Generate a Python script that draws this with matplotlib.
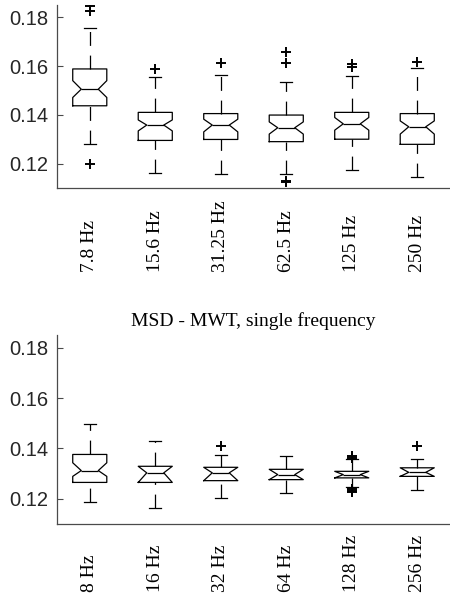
import matplotlib
matplotlib.use('Agg')
import matplotlib.pyplot as plt

# top panel: MSD at the wavelet-ish frequencies
top_title = 'MSD - Wavelet, single frequency'
top_labels = ['7.8 Hz', '15.6 Hz', '31.25 Hz', '62.5 Hz', '125 Hz', '250 Hz']
top_med = [0.1505, 0.1358, 0.1358, 0.1347, 0.1363, 0.1351]
top_q1 = [0.1437, 0.1295, 0.1299, 0.1290, 0.1300, 0.1279]
top_q3 = [0.1588, 0.1410, 0.1405, 0.1399, 0.1410, 0.1405]
top_whislo = [0.1282, 0.1160, 0.1159, 0.1159, 0.1173, 0.1145]
top_whishi = [0.1755, 0.1556, 0.1564, 0.1533, 0.1560, 0.1590]
top_cilo = [0.1471, 0.1334, 0.1330, 0.1321, 0.1337, 0.1321]
top_cihi = [0.1540, 0.1379, 0.1382, 0.1371, 0.1389, 0.1375]
top_fliers = [[0.1848, 0.1827, 0.1200], [0.1588], [0.1611],
              [0.1659, 0.1611, 0.1129, 0.1123], [0.1608, 0.1597], [0.1618]]

# bottom panel: MSD - MWT
bot_title = 'MSD - MWT, single frequency'
bot_labels = ['8 Hz', '16 Hz', '32 Hz', '64 Hz', '128 Hz', '256 Hz']
bot_med = [0.1312, 0.1303, 0.1303, 0.1296, 0.1296, 0.1305]
bot_q1 = [0.1265, 0.1265, 0.1272, 0.1276, 0.1283, 0.1289]
bot_q3 = [0.1376, 0.1329, 0.1325, 0.1317, 0.1309, 0.1323]
bot_whislo = [0.1189, 0.1165, 0.1205, 0.1223, 0.1248, 0.1236]
bot_whishi = [0.1496, 0.1428, 0.1375, 0.1368, 0.1356, 0.1356]
bot_cilo = [0.1289, 0.1265, 0.1272, 0.1276, 0.1283, 0.1289]
bot_cihi = [0.1343, 0.1329, 0.1325, 0.1317, 0.1309, 0.1323]
bot_fliers = [[], [], [0.1409], [], [0.1370, 0.1363, 0.1240, 0.1232, 0.1225], [0.1409]]

yticks = [0.12, 0.14, 0.16, 0.18]

plt.rcParams['lines.scale_dashes'] = False
serif = 'Liberation Serif'
sans = 'Liberation Sans'
axcol = '#4a4a4a'


def draw_panel(ax, title, labels, med, q1, q3, wlo, whi, cilo, cihi, fliers, label_y):
    stats = []
    for i in range(len(labels)):
        stats.append(dict(med=med[i], q1=q1[i], q3=q3[i], whislo=wlo[i], whishi=whi[i],
                          cilo=cilo[i], cihi=cihi[i], fliers=fliers[i]))
    pos = list(range(1, len(labels) + 1))
    art = ax.bxp(stats, positions=pos, widths=0.52, capwidths=0.18, shownotches=True,
                 boxprops=dict(color='black', lw=0.9),
                 medianprops=dict(color='black', lw=0.9),
                 whiskerprops=dict(color='black', lw=0.9, linestyle=(0, (10, 7))),
                 capprops=dict(color='black', lw=0.9),
                 flierprops=dict(marker='+', markersize=7.5, markeredgewidth=1.4,
                                 markeredgecolor='black', linestyle='none'))
    # lower whiskers dash from the cap side, like the original
    for w in art['whiskers'][0::2]:
        x, y = w.get_data()
        w.set_data(x[::-1], y[::-1])

    ax.set_xlim(0.5, 6.5)
    ax.set_ylim(0.11, 0.185)
    ax.set_yticks(yticks)
    ax.set_yticklabels(['%.2f' % v for v in yticks], fontfamily=sans, fontsize=14.5, color='#262626')
    ax.set_xticks(pos)
    ax.set_xticklabels([''] * len(pos))
    ax.tick_params(axis='y', direction='in', length=4, width=0.8, pad=6.0, color=axcol)
    ax.tick_params(axis='x', length=0)
    for s in ['top', 'right']:
        ax.spines[s].set_visible(False)
    for s in ['left', 'bottom']:
        ax.spines[s].set_color(axcol)
        ax.spines[s].set_linewidth(0.9)

    trans = matplotlib.transforms.blended_transform_factory(ax.transData, ax.transAxes)
    for p, lab in zip(pos, labels):
        ax.text(p, label_y, lab, rotation=90, ha='center', va='bottom', transform=trans,
                fontfamily=serif, fontsize=14, color='black')
    ax.set_title(title, fontfamily=serif, fontsize=14, pad=6.5, color='black')


fig = plt.figure(figsize=(4.5, 6.12), dpi=100)
ax1 = fig.add_axes([0.1267, 0.6928, 0.8733, 0.2990])
ax2 = fig.add_axes([0.1267, 0.1438, 0.8733, 0.3088])

draw_panel(ax1, top_title, top_labels, top_med, top_q1, top_q3, top_whislo, top_whishi,
           top_cilo, top_cihi, top_fliers, -0.459)
draw_panel(ax2, bot_title, bot_labels, bot_med, bot_q1, bot_q3, bot_whislo, bot_whishi,
           bot_cilo, bot_cihi, bot_fliers, -0.360)

fig.savefig('out.png', dpi=100)
